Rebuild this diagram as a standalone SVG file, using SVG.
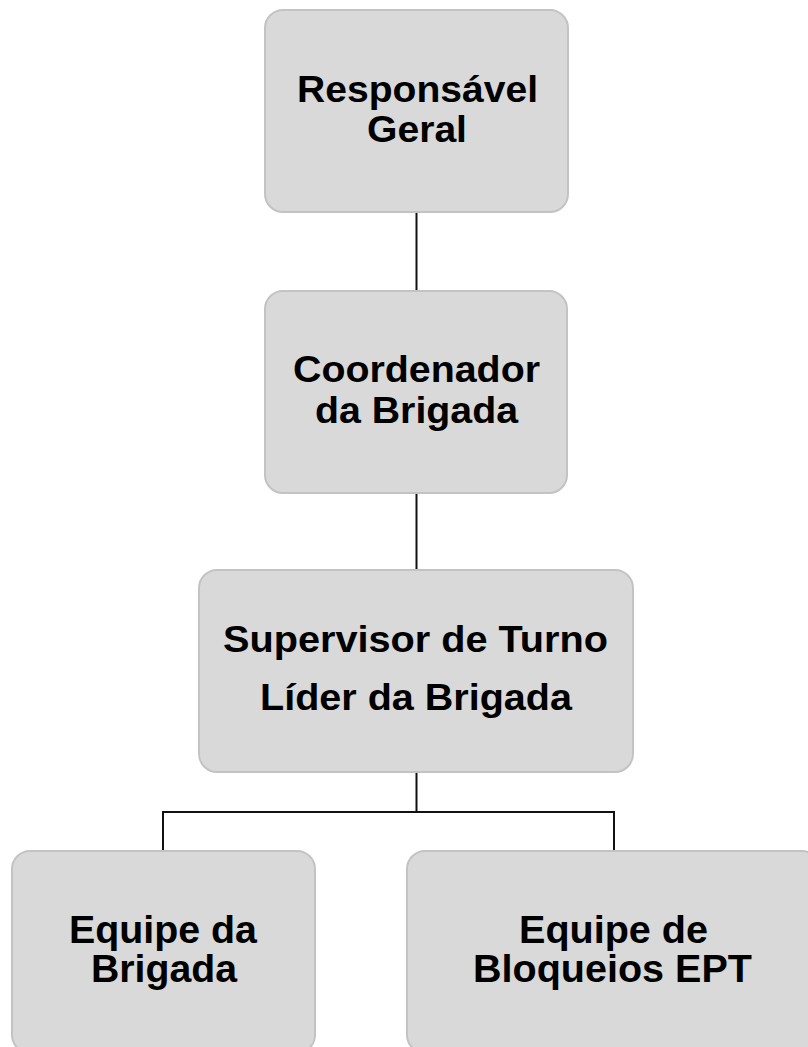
<svg xmlns="http://www.w3.org/2000/svg" width="808" height="1047" viewBox="0 0 808 1047">
<style>
.box{fill:#d9d9d9;stroke:#c3c3c3;stroke-width:2}
.lbl{font-family:"Liberation Sans",Arial,sans-serif;font-weight:bold;font-size:37px;fill:#000;text-anchor:middle}
.lbl2{font-family:"Liberation Sans",Arial,sans-serif;font-weight:bold;font-size:38px;fill:#000;text-anchor:middle}
.conn{fill:none;stroke:#111;stroke-width:2}
</style>
<rect width="808" height="1047" fill="#fff"/>
<g id="connectors">
<line class="conn" x1="416.5" y1="212" x2="416.5" y2="291"/>
<line class="conn" x1="416.5" y1="493" x2="416.5" y2="570"/>
<path class="conn" d="M416.5 772 V812 M163 851 V812 H614 V851"/>
</g>
<g id="node-responsavel">
<rect class="box" x="265" y="10" width="303" height="202" rx="18"/>
<text class="lbl" x="417.5" y="101.7" textLength="241" lengthAdjust="spacingAndGlyphs">Responsável</text>
<text class="lbl" x="417" y="141.7" textLength="100" lengthAdjust="spacingAndGlyphs">Geral</text>
</g>
<g id="node-coordenador">
<rect class="box" x="265" y="291" width="302" height="202" rx="18"/>
<text class="lbl" x="416.5" y="381.7" textLength="247" lengthAdjust="spacingAndGlyphs">Coordenador</text>
<text class="lbl" x="416.5" y="423" textLength="203" lengthAdjust="spacingAndGlyphs">da Brigada</text>
</g>
<g id="node-supervisor">
<rect class="box" x="199" y="570" width="434" height="202" rx="18"/>
<text class="lbl" x="415.5" y="652.3" textLength="385" lengthAdjust="spacingAndGlyphs">Supervisor de Turno</text>
<text class="lbl" x="416" y="710" textLength="312" lengthAdjust="spacingAndGlyphs">Líder da Brigada</text>
</g>
<g id="node-equipe-brigada">
<rect class="box" x="12" y="851" width="303" height="202" rx="18"/>
<text class="lbl2" x="163" y="942.7" textLength="188" lengthAdjust="spacingAndGlyphs">Equipe da</text>
<text class="lbl2" x="164" y="981.7" textLength="146" lengthAdjust="spacingAndGlyphs">Brigada</text>
</g>
<g id="node-equipe-bloqueios">
<rect class="box" x="407" y="851" width="413" height="202" rx="18"/>
<text class="lbl2" x="613.5" y="942.7" textLength="189" lengthAdjust="spacingAndGlyphs">Equipe de</text>
<text class="lbl2" x="612.5" y="981.7" textLength="279" lengthAdjust="spacingAndGlyphs">Bloqueios EPT</text>
</g>
</svg>
